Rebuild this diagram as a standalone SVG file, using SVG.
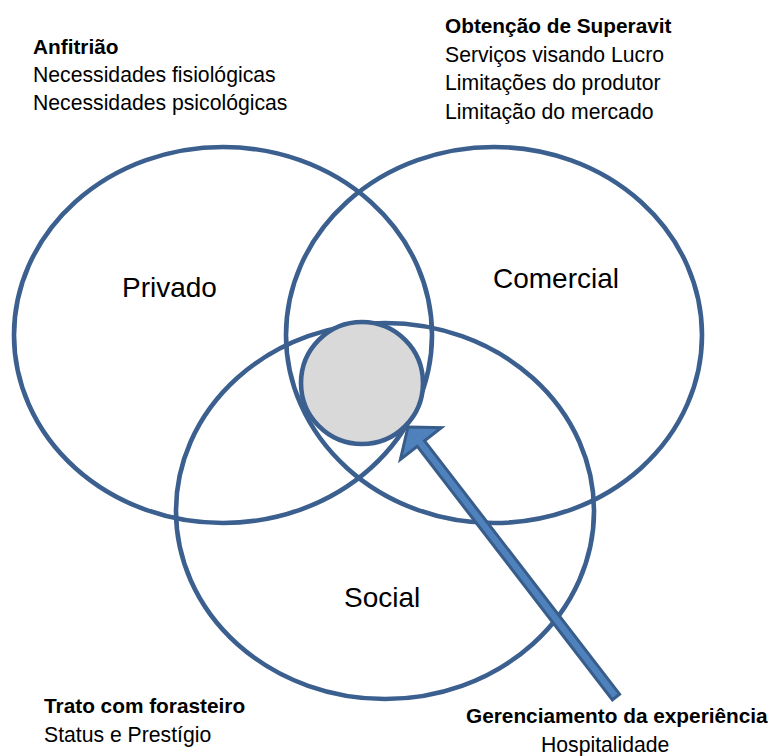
<svg xmlns="http://www.w3.org/2000/svg" width="768" height="756" viewBox="0 0 768 756">
<style>
.ring{fill:none;stroke:#3b5f8e;stroke-width:4.6}
.t{font-family:"Liberation Sans",Arial,sans-serif;font-size:21.2px;fill:#000}
.b{font-weight:bold;font-size:20.8px}
.lbl{font-family:"Liberation Sans",Arial,sans-serif;font-size:28px;fill:#000}
</style>
<rect width="768" height="756" fill="#fff"/>
<g id="privado">
<ellipse class="ring" cx="223" cy="335" rx="209" ry="188"/>
<text class="lbl" x="122" y="297">Privado</text>
</g>
<g id="comercial">
<ellipse class="ring" cx="494" cy="335" rx="208" ry="188"/>
<text class="lbl" x="493" y="288">Comercial</text>
</g>
<g id="social">
<ellipse class="ring" cx="385" cy="511" rx="209" ry="188"/>
<text class="lbl" x="344" y="607">Social</text>
</g>
<g id="hospitalidade-centro">
<circle cx="362" cy="383" r="61" fill="#d9d9d9" stroke="#3b5f8e" stroke-width="4.6"/>
</g>
<g id="connectors">
<polygon points="408,427 441.4,427.7 424.5,440.8 619.6,694.2 612.4,699.8 417.3,446.4 400.4,459.5" fill="#4f81bd" stroke="#385d8a" stroke-width="3" stroke-linejoin="miter"/>
</g>
<g id="anfitriao">
<text class="t b" x="33" y="54">Anfitrião</text>
<text class="t" x="33" y="82">Necessidades fisiológicas</text>
<text class="t" x="33" y="110">Necessidades psicológicas</text>
</g>
<g id="superavit">
<text class="t b" x="445" y="33">Obtenção de Superavit</text>
<text class="t" x="445" y="62">Serviços visando Lucro</text>
<text class="t" x="445" y="90">Limitações do produtor</text>
<text class="t" x="445" y="119">Limitação do mercado</text>
</g>
<g id="forasteiro">
<text class="t b" x="44" y="713">Trato com forasteiro</text>
<text class="t" x="44" y="742">Status e Prestígio</text>
</g>
<g id="experiencia">
<text class="t b" x="466" y="723">Gerenciamento da experiência</text>
<text class="t" x="541" y="752">Hospitalidade</text>
</g>
</svg>
